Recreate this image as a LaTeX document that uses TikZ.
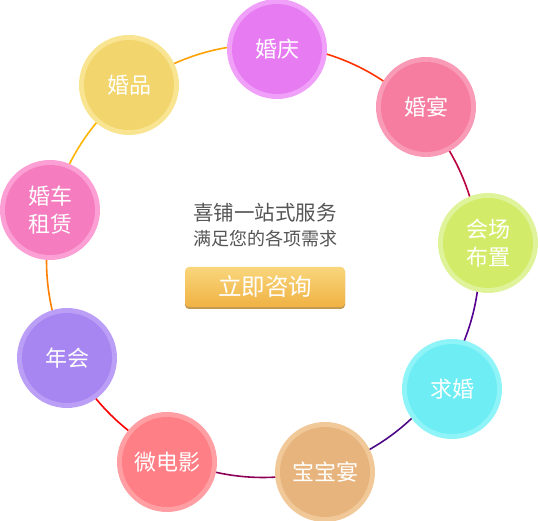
\documentclass[tikz,border=0pt]{standalone}
\usepackage{fontspec}
\usetikzlibrary{calc}
\newfontfamily\cjk{Noto Sans CJK SC}
\definecolor{qingIn}{HTML}{E77CF2}\definecolor{qingOut}{HTML}{F0A0F8}
\definecolor{yanIn}{HTML}{F67DA0}\definecolor{yanOut}{HTML}{F99BB6}
\definecolor{chIn}{HTML}{D2EC6A}\definecolor{chOut}{HTML}{DFF39B}
\definecolor{qiuIn}{HTML}{6EEEF4}\definecolor{qiuOut}{HTML}{8FF4F8}
\definecolor{bbIn}{HTML}{E8B47E}\definecolor{bbOut}{HTML}{F1C898}
\definecolor{wdyIn}{HTML}{FF7F86}\definecolor{wdyOut}{HTML}{FF9FA3}
\definecolor{nhIn}{HTML}{A886F2}\definecolor{nhOut}{HTML}{BB9FF7}
\definecolor{cheIn}{HTML}{F57CBF}\definecolor{cheOut}{HTML}{FB9FD4}
\definecolor{pinIn}{HTML}{F2D56C}\definecolor{pinOut}{HTML}{F8E491}
\definecolor{cA}{HTML}{FFA200}
\definecolor{cB}{HTML}{FF3300}
\definecolor{cC}{HTML}{BA0040}
\definecolor{cD}{HTML}{55008F}
\definecolor{cE}{HTML}{4E0A86}
\definecolor{cF}{HTML}{8E0058}
\definecolor{cG}{HTML}{FF0000}
\definecolor{cH}{HTML}{FF7F00}
\definecolor{cI}{HTML}{FFB400}
\definecolor{gtxt}{HTML}{555555}
\definecolor{btnTop}{HTML}{F9D67C}
\definecolor{btnBot}{HTML}{F0B244}
\definecolor{btnShadow}{HTML}{C49A52}
\tikzset{
  bub/.style 2 args={circle, minimum size=100pt, inner sep=0pt, fill=#2,
    path picture={\fill[#1] (path picture bounding box.center) circle (45pt);},
    text=white, font=\cjk\fontsize{22}{28}\selectfont, align=center},
  ringline/.style={line width=1.6pt},
  headline/.style={text=gtxt, font=\cjk\fontsize{20.5}{22}\selectfont, inner sep=0pt},
  subline/.style={text=gtxt, font=\cjk\fontsize{18}{20}\selectfont, inner sep=0pt},
  button/.style={rounded corners=4pt, minimum width=160pt, minimum height=40pt,
    top color=btnTop, bottom color=btnBot, text=white,
    preaction={fill=btnShadow, transform canvas={yshift=-2pt}},
    font=\cjk\fontsize{23.5}{24}\selectfont, inner sep=0pt}
}
% arc of the ring (centre O, radius 216.5pt) from node #1 clockwise to node #2
\newcommand\ringarc[3]{%
  \draw[ringline, #3] let \p1=($(#1)-(O)$), \p2=($(#2)-(O)$),
     \n1={atan2(\y1,\x1)}, \n2={atan2(\y2,\x2)}, \n3={\n2-360*(\n2>\n1)} in
     ($(O)+(\n1:216.5pt)$) arc[start angle=\n1, end angle=\n3, radius=216.5pt];}
\begin{document}
\begin{tikzpicture}[x=1pt,y=1pt]
\useasboundingbox (0,0) rectangle (538,521);
\coordinate (O) at (263,260);
% arcs (drawn first, the circles cover their ends)
\coordinate (q) at (277,472);
\coordinate (y) at (426,414);
\coordinate (c) at (488,278);
\coordinate (h) at (452,132);
\coordinate (b) at (325,49);
\coordinate (w) at (167,59);
\coordinate (n) at (67,163);
\coordinate (r) at (50,311);
\coordinate (p) at (129,436);
\ringarc{p}{q}{cA}
\ringarc{q}{y}{cB}
\ringarc{y}{c}{cC}
\ringarc{c}{h}{cD}
\ringarc{h}{b}{cE}
\ringarc{b}{w}{cF}
\ringarc{w}{n}{cG}
\ringarc{n}{r}{cH}
\ringarc{r}{p}{cI}
% nodes
\node[bub={qingIn}{qingOut}] (qing) at (q) {婚庆};
\node[bub={yanIn}{yanOut}] (yan) at (y) {婚宴};
\node[bub={chIn}{chOut}] (chang) at (c) {会场\\布置};
\node[bub={qiuIn}{qiuOut}] (qiu) at (h) {求婚};
\node[bub={bbIn}{bbOut}] (bao) at (b) {宝宝宴};
\node[bub={wdyIn}{wdyOut}] (wei) at (w) {微电影};
\node[bub={nhIn}{nhOut}] (nian) at (n) {年会};
\node[bub={cheIn}{cheOut}] (che) at (r) {婚车\\租赁};
\node[bub={pinIn}{pinOut}] (pin) at (p) {婚品};
% centre
\node[headline] (t1) at (265,308) {喜铺一站式服务};
\node[subline] (t2) at (265,282) {满足您的各项需求};
\node[button] (btn) at (265,234) {立即咨询};
\end{tikzpicture}
\end{document}
